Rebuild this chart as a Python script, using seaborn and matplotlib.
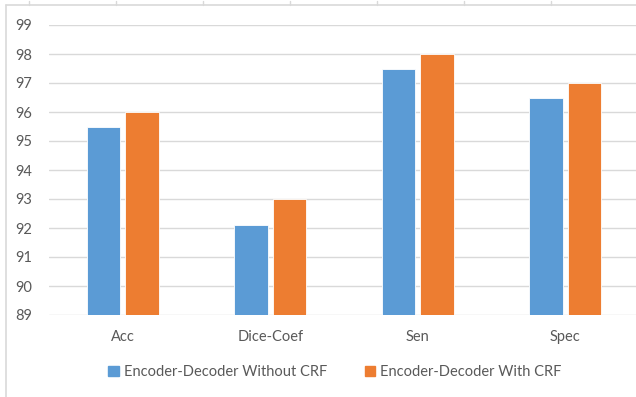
import matplotlib
matplotlib.use("Agg")
import matplotlib.pyplot as plt
from matplotlib.lines import Line2D
import seaborn as sns
import pandas as pd

metrics = ["Acc", "Dice-Coef", "Sen", "Spec"]
without_crf = [95.5, 92.1, 97.5, 96.5]
with_crf = [96.0, 93.0, 98.0, 97.0]
series_names = ["Encoder-Decoder Without CRF", "Encoder-Decoder With CRF"]
y_ticks = [89, 90, 91, 92, 93, 94, 95, 96, 97, 98, 99]

df = pd.DataFrame({
    "metric": metrics * 2,
    "value": without_crf + with_crf,
    "model": [series_names[0]] * len(metrics) + [series_names[1]] * len(metrics),
})

sns.set_theme(style="white")
plt.rcParams["font.family"] = ["Lato", "DejaVu Sans"]

W, H = 636, 397
fig = plt.figure(figsize=(W / 100, H / 100), dpi=100)
ax = fig.add_axes([49 / W, 1 - 315 / H, 590 / W, 290 / H])

palette = {series_names[0]: "#5b9bd5", series_names[1]: "#ed7d31"}
sns.barplot(data=df, x="metric", y="value", hue="model", palette=palette,
            width=0.52, gap=0.12, ax=ax, edgecolor="#ffffff", linewidth=0.6,
            saturation=1, legend=False, zorder=3)

ax.set_ylim(89, 99)
ax.set_yticks(y_ticks)
ax.set_xlim(-0.5, 3.5)
ax.yaxis.grid(True, color="#d9d9d9", linewidth=1.0, zorder=0)
ax.set_axisbelow(True)
for s in ax.spines.values():
    s.set_visible(False)
ax.tick_params(axis="both", length=0, labelsize=10.5, labelcolor="#595959")
ax.tick_params(axis="y", pad=12)
ax.tick_params(axis="x", pad=11)
ax.set_xlabel("")
ax.set_ylabel("")

handles = [plt.Rectangle((0, 0), 1, 1, color=palette[n]) for n in series_names]
fig.legend(handles, series_names, loc="center", bbox_to_anchor=(335 / W, 1 - 372 / H),
           ncol=2, frameon=False, fontsize=10.5, handlelength=0.7, handleheight=0.7,
           handletextpad=0.35, columnspacing=2.6, labelcolor="#595959")

# chart area border
fig.add_artist(Line2D([6 / W, 6 / W], [0, 1 - 5 / H], color="#d9d9d9", linewidth=1.2))
fig.add_artist(Line2D([6 / W, 1], [1 - 5 / H, 1 - 5 / H], color="#d9d9d9", linewidth=1.2))
for xp in [29, 116, 203, 290, 377, 464, 551]:
    fig.add_artist(Line2D([xp / W, xp / W], [1 - 5 / H, 1 - 1 / H], color="#d9d9d9", linewidth=1.0))

fig.savefig("out.png", dpi=100)
